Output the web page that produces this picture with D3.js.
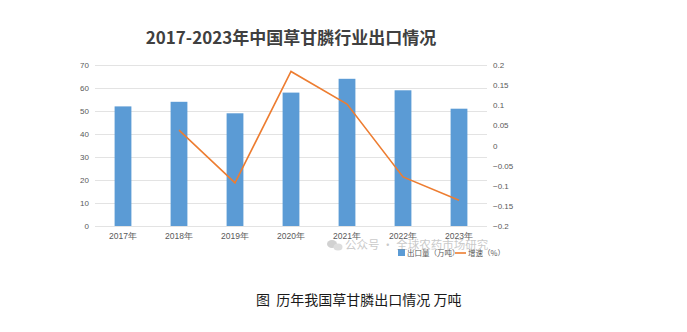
<!DOCTYPE html>
<html>
<head>
<meta charset="utf-8">
<script src="https://cdn.jsdelivr.net/npm/d3@7/dist/d3.min.js"></script>
<style>
  html, body { margin: 0; padding: 0; background: #fff; }
  svg { display: block; font-family: "Microsoft YaHei", "Noto Sans CJK SC", sans-serif; }
</style>
</head>
<body>
<svg id="chart" width="687" height="332"></svg>
<script>
// Export volume (10k tonnes) and year-on-year growth rate
const years = ["2017年", "2018年", "2019年", "2020年", "2021年", "2022年", "2023年"];
const volume = [52, 54, 49, 58, 64, 59, 51];
const growth = [null, 0.038, -0.093, 0.184, 0.103, -0.078, -0.136];
const leftTicks = [0, 10, 20, 30, 40, 50, 60, 70];
const rightTicks = [-0.2, -0.15, -0.1, -0.05, 0, 0.05, 0.1, 0.15, 0.2];

const svg = d3.select("#chart");
const plot = { left: 95, right: 487, top: 65, bottom: 226 };

const x = d3.scaleBand().domain(years).range([plot.left, plot.right]).paddingInner(0.7).paddingOuter(0.35);
const xc = d3.scaleBand().domain(years).range([plot.left, plot.right]);
const yL = d3.scaleLinear().domain([0, 70]).range([plot.bottom, plot.top]);
const yR = d3.scaleLinear().domain([-0.2, 0.2]).range([plot.bottom, plot.top]);

// Title
svg.append("text")
  .attr("x", 291).attr("y", 44)
  .attr("text-anchor", "middle")
  .attr("font-size", 17).attr("font-weight", "bold")
  .attr("fill", "#404040")
  .text("2017-2023年中国草甘膦行业出口情况");

// Gridlines
svg.append("g").selectAll("line").data(leftTicks).join("line")
  .attr("x1", plot.left).attr("x2", plot.right)
  .attr("y1", d => yL(d) + 0.5).attr("y2", d => yL(d) + 0.5)
  .attr("stroke", "#e3e3e3").attr("stroke-width", 1);

// Left axis
const axL = svg.append("g").attr("transform", `translate(${plot.left - 6},0)`)
  .call(d3.axisLeft(yL).tickValues(leftTicks).tickSize(0).tickPadding(0));
axL.select(".domain").remove();
axL.selectAll("text").attr("font-size", 8).attr("fill", "#595959").attr("font-family", "Liberation Sans, Arial, sans-serif");

// Right axis
const axR = svg.append("g").attr("transform", `translate(${plot.right + 6},0)`)
  .call(d3.axisRight(yR).tickValues(rightTicks).tickSize(0).tickPadding(0).tickFormat(d => d3.format("~g")(d)));
axR.select(".domain").remove();
axR.selectAll("text").attr("font-size", 8).attr("fill", "#595959").attr("font-family", "Liberation Sans, Arial, sans-serif");

// Bottom axis labels
const axB = svg.append("g").attr("transform", `translate(0,${plot.bottom + 5})`)
  .call(d3.axisBottom(xc).tickSize(0).tickPadding(2));
axB.select(".domain").remove();
axB.selectAll("text").attr("font-size", 8.5).attr("fill", "#595959");

// Bars
svg.append("g").selectAll("rect").data(volume).join("rect")
  .attr("x", (d, i) => x(years[i]))
  .attr("width", x.bandwidth())
  .attr("y", d => yL(d))
  .attr("height", d => yL(0) - yL(d))
  .attr("fill", "#5b9bd5");

// Growth line
const pts = growth.map((g, i) => ({ year: years[i], g })).filter(p => p.g !== null);
svg.append("path").datum(pts)
  .attr("fill", "none").attr("stroke", "#ed7d31").attr("stroke-width", 1.6)
  .attr("d", d3.line().x(p => xc(p.year) + xc.bandwidth() / 2).y(p => yR(p.g)));

// Legend
const lg = svg.append("g").attr("transform", "translate(398,253)");
lg.append("rect").attr("x", 0).attr("y", -4).attr("width", 7).attr("height", 7).attr("fill", "#5b9bd5");
lg.append("text").attr("x", 9).attr("y", 3).attr("font-size", 7.5).attr("fill", "#595959").text("出口量（万吨）");
lg.append("line").attr("x1", 57).attr("x2", 68).attr("y1", 0).attr("y2", 0).attr("stroke", "#ed7d31").attr("stroke-width", 1.6);
lg.append("text").attr("x", 70).attr("y", 3).attr("font-size", 7.5).attr("fill", "#595959").text("增速（%）");

// Account watermark
const wm = svg.append("g").attr("opacity", 0.45);
wm.append("ellipse").attr("cx", 332).attr("cy", 244).attr("rx", 5).attr("ry", 4).attr("fill", "#9a9a9a");
wm.append("ellipse").attr("cx", 338).attr("cy", 247).attr("rx", 4.5).attr("ry", 3.5).attr("fill", "#b5b5b5");
wm.append("text").attr("x", 345).attr("y", 249).attr("font-size", 11.5).attr("fill", "#8a8a8a")
  .text("公众号 · 全球农药市场研究");

// Caption
svg.append("text")
  .attr("x", 256).attr("y", 305)
  .attr("font-size", 14).attr("fill", "#1a1a1a")
  .style("white-space", "pre")
  .text("图  历年我国草甘膦出口情况 万吨");
</script>
</body>
</html>
